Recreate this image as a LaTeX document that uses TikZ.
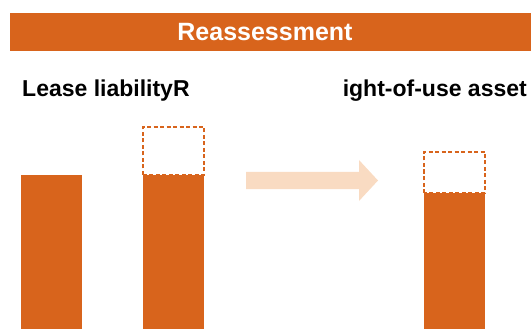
\documentclass[tikz,border=0pt]{standalone}
\usepackage{fontspec}
\setmainfont{Liberation Sans}
\definecolor{rust}{HTML}{D8641C}
\definecolor{peach}{HTML}{F9DBC2}
\tikzset{
  heading/.style={font=\bfseries\fontsize{23}{27}\selectfont, inner sep=0},
  bar/.style={fill=rust},
  extra/.style={draw=rust, line width=1.5pt, dash pattern=on 4pt off 2.5pt}
}

\begin{document}
\begin{tikzpicture}[x=1pt, y=-1pt]
    \useasboundingbox (0,0) rectangle (531,329);
    \fill[rust] (10,13) rectangle (531,51);
    \node[white, font=\bfseries\fontsize{25}{29}\selectfont] (title) at (265,32) {Reassessment};
    \node[heading, anchor=base west] (lease) at (22,97) {Lease liabilityR};
    \node[heading, anchor=base east] (asset) at (527,97) {ight-of-use asset};
    % before / after bars of the liability
    \path[bar] (21,175) rectangle (82,329);
    \path[extra] (143,175) rectangle (204,127);
    \path[bar] (143,175) rectangle (204,329);
    % block arrow
    \fill[peach] (246,172) -- (359,172) -- (359,160) -- (378,180.5) -- (359,201) -- (359,189) -- (246,189) -- cycle;
    % asset bar
    \path[extra] (424,193) rectangle (485,152);
    \path[bar] (424,193) rectangle (485,329);
\end{tikzpicture}
\end{document}
